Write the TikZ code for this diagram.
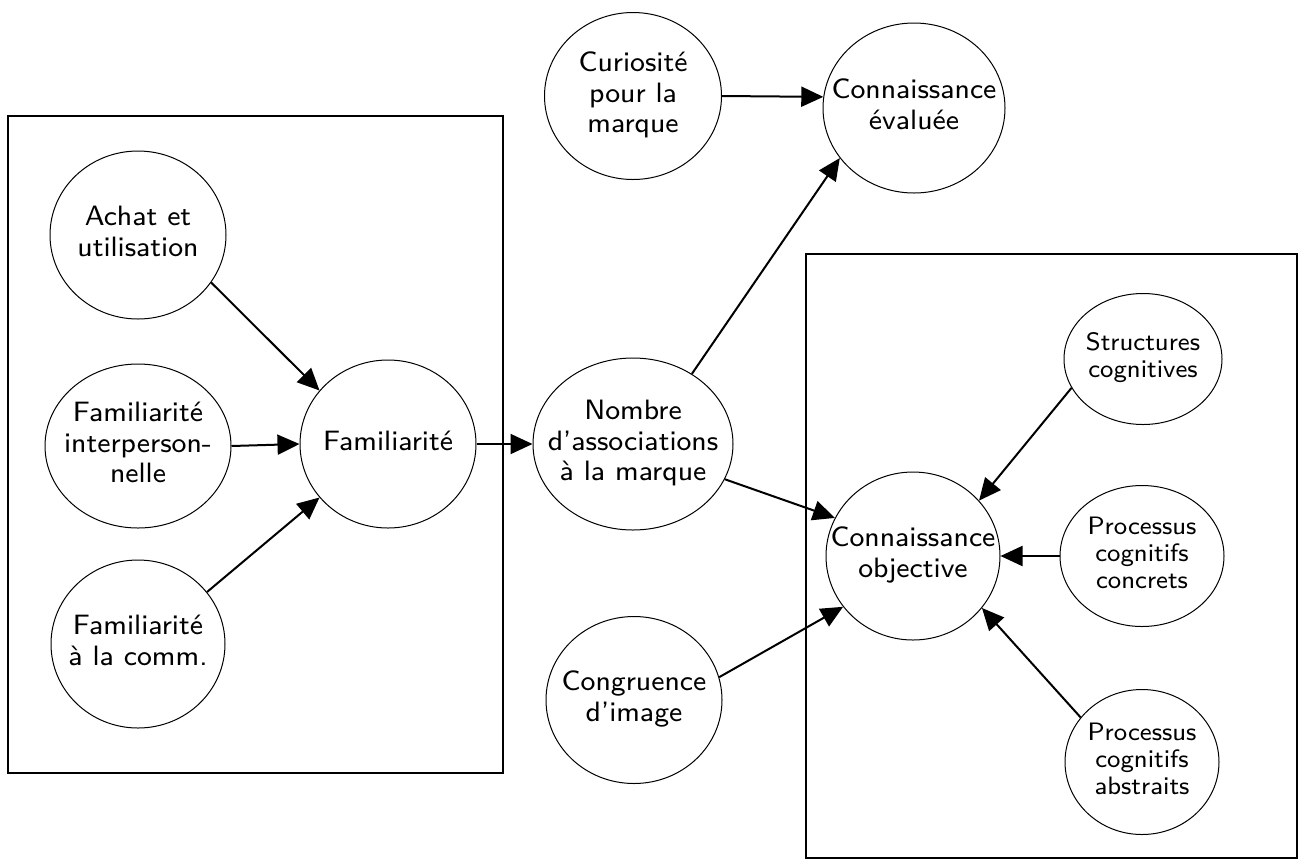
\documentclass[tikz,border=0pt]{standalone}
\usepackage{tikz}
\usepackage{calc}
\usepackage{fontspec}
\usetikzlibrary{shapes.geometric,arrows.meta}
\newfontfamily\diagfont{lmsans8-regular.otf}
\newcommand\txt[1]{\raisebox{0.5\depth-0.5\height}[0pt][0pt]{\makebox[0pt]{\begin{tabular}{@{}c@{}}#1\end{tabular}}}}

\begin{document}
\begin{tikzpicture}[x=0.5pt,y=-0.5pt,
    every node/.style = {shape=ellipse, draw, line width=0.5pt,
      inner sep=0pt, align=center,
      font=\diagfont\fontsize{14}{15.2}\selectfont},
    small/.style = {font=\diagfont\fontsize{12.6}{13.4}\selectfont},
    sz/.style 2 args = {minimum width=#1pt, minimum height=#2pt},
    link/.style = {line width=1pt, -{Triangle[length=11pt,width=10pt]}},
    frame/.style = {line width=1pt}]
  \useasboundingbox (0,0) rectangle (1302,864);
  \draw[frame] (8,116) rectangle (503,773);
  \draw[frame] (806,254) rectangle (1297,858);

  \node[sz={88}{84}] (achat) at (138,235) {\txt{Achat et\\utilisation}};
  \node[sz={93}{82}] (interp) at (138,446) {\txt{Familiarité\\interperson-\\nelle}};
  \node[sz={87}{84}] (comm) at (138,644) {\txt{Familiarité\\à la comm.}};
  \node[sz={88}{84}] (famil) at (388,444) {\txt{Familiarité}};
  \node[sz={100}{86}] (nombre) at (633,444) {\txt{Nombre\\d’associations\\à la marque}};
  \node[sz={88.5}{83.5}] (curio) at (633,96) {\txt{Curiosité\\pour la\\marque}};
  \node[sz={91}{85}] (evalu) at (914,108) {\txt{Connaissance\\évaluée}};
  \node[sz={88}{83.5}] (congru) at (634,700) {\txt{Congruence\\d’image}};
  \node[sz={87}{84}] (objec) at (913,556) {\txt{Connaissance\\objective}};
  \node[small,sz={79}{65.5}] (struct) at (1143,359) {\txt{Structures\\cognitives}};
  \node[small,sz={82}{70.5}] (concr) at (1142,556) {\txt{Processus\\cognitifs\\concrets}};
  \node[small,sz={77}{72.5}] (abstr) at (1142,762) {\txt{Processus\\cognitifs\\abstraits}};

  \draw[link] (achat.-33) -- (famil.142);
  \draw[link] (interp.east) -- (famil.west);
  \draw[link] (comm.37) -- (famil.218);
  \draw[link] (famil.east) -- (nombre.west);
  \draw[link] (curio.east) -- (evalu.173);
  \draw[link] (nombre.50) -- (evalu.214);
  \draw[link] (nombre.-21) -- (objec.154);
  \draw[link] (congru.15) -- (objec.216);
  \draw[link] (struct.202) -- (objec.40);
  \draw[link] (concr.west) -- (objec.east);
  \draw[link] (abstr.144) -- (objec.-37);
\end{tikzpicture}
\end{document}
